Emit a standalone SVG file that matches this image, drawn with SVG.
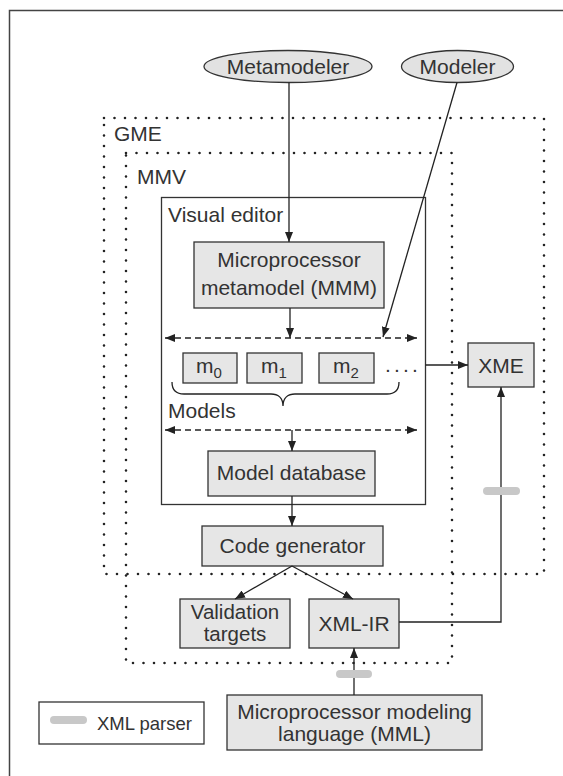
<svg xmlns="http://www.w3.org/2000/svg" width="563" height="776" viewBox="0 0 563 776">
<defs>
<marker id="ah" viewBox="0 0 10 8" refX="10" refY="4" markerWidth="10" markerHeight="8" markerUnits="userSpaceOnUse" orient="auto-start-reverse">
<path d="M0,0 L10,4 L0,8 Z" fill="#222"/>
</marker>
</defs>
<style>
text{font-family:"Liberation Sans",Arial,sans-serif;font-size:21px;fill:#333}
.c{text-anchor:middle}
.box{fill:#e6e6e6;stroke:#333;stroke-width:1.3}
.ell{fill:#e2e2e2;stroke:#333;stroke-width:1.3}
.frame{fill:none;stroke:#333;stroke-width:1.3}
.dot{fill:none;stroke:#222;stroke-width:2.6;stroke-linecap:round;stroke-dasharray:0 10.5}
.ln{fill:none;stroke:#222;stroke-width:1.3}
.dash{fill:none;stroke:#222;stroke-width:1.3;stroke-dasharray:6 4}
.pill{stroke:#c8c8c8;stroke-width:8;stroke-linecap:round}
.sub{font-size:15px}
.sm{font-size:18.5px}
.vt{font-size:20.5px}
</style>
<rect width="563" height="776" fill="#fff"/>
<path d="M9.5,776 V10.5 H563" fill="none" stroke="#444" stroke-width="1.5"/>

<g id="gme">
<rect class="dot" x="104" y="118" width="440" height="456"/>
<text x="114" y="141">GME</text>
</g>
<g id="mmv">
<rect class="dot" x="126" y="153" width="326" height="510"/>
<text x="137" y="184">MMV</text>
</g>
<g id="visual-editor">
<rect class="frame" x="161.5" y="197.5" width="264" height="307"/>
<text x="168" y="222">Visual editor</text>
</g>

<g id="metamodeler">
<ellipse class="ell" cx="288" cy="66.5" rx="84" ry="16"/>
<text class="c" x="288" y="74">Metamodeler</text>
</g>
<g id="modeler">
<ellipse class="ell" cx="457.5" cy="66.5" rx="56" ry="16"/>
<text class="c" x="457.5" y="74">Modeler</text>
</g>

<g id="mmm">
<rect class="box" x="194" y="242" width="190" height="66"/>
<text class="c" x="289" y="267">Microprocessor</text>
<text class="c" x="289" y="295">metamodel (MMM)</text>
</g>

<g id="m0">
<rect class="box" x="183" y="353" width="54" height="30"/>
<text x="196" y="373">m<tspan class="sub" dy="5">0</tspan></text>
</g>
<g id="m1">
<rect class="box" x="247" y="353" width="55" height="30"/>
<text x="261" y="373">m<tspan class="sub" dy="5">1</tspan></text>
</g>
<g id="m2">
<rect class="box" x="319" y="353" width="55" height="30"/>
<text x="333" y="373">m<tspan class="sub" dy="5">2</tspan></text>
</g>
<g id="ellipsis">
<text x="385" y="372" style="letter-spacing:3.2px">....</text>
</g>
<g id="models">
<path class="ln" d="M172,382 C172,390 176,394 184,394 H271 C278,394 283,398 283,406 C283,398 288,394 295,394 H387 C395,394 399,390 399,382"/>
<text x="168" y="418">Models</text>
</g>

<g id="model-database">
<rect class="box" x="208" y="451" width="167" height="45"/>
<text class="c" x="291.5" y="480">Model database</text>
</g>
<g id="code-generator">
<rect class="box" x="202" y="526" width="181" height="40"/>
<text class="c" x="292.5" y="553">Code generator</text>
</g>
<g id="validation-targets">
<rect class="box" x="180" y="599" width="110" height="49"/>
<text class="c vt" x="235" y="619">Validation</text>
<text class="c vt" x="235" y="641">targets</text>
</g>
<g id="xml-ir">
<rect class="box" x="309" y="599" width="90" height="49"/>
<text class="c" x="354" y="631">XML-IR</text>
</g>
<g id="xme">
<rect class="box" x="468" y="343" width="66" height="44"/>
<text class="c" x="501" y="373">XME</text>
</g>
<g id="mml">
<rect class="box" x="227" y="695" width="255" height="55"/>
<text class="c" x="354.5" y="719">Microprocessor modeling</text>
<text class="c" x="354.5" y="741">language (MML)</text>
</g>
<g id="legend">
<rect class="frame" x="39" y="702" width="165" height="42"/>
<line class="pill" x1="54" y1="720" x2="83" y2="720"/>
<text class="sm" x="97" y="730">XML parser</text>
</g>

<g id="connectors">
<line class="ln" x1="289" y1="82.5" x2="289" y2="242" marker-end="url(#ah)"/>
<line class="ln" x1="457" y1="82.5" x2="383" y2="337" marker-end="url(#ah)"/>
<line class="ln" x1="290" y1="308" x2="290" y2="338" marker-end="url(#ah)"/>
<line class="dash" x1="165" y1="338" x2="417" y2="338" marker-start="url(#ah)" marker-end="url(#ah)"/>
<line class="dash" x1="165" y1="430" x2="417" y2="430" marker-start="url(#ah)" marker-end="url(#ah)"/>
<line class="ln" x1="292" y1="430" x2="292" y2="451" marker-end="url(#ah)"/>
<line class="ln" x1="292" y1="496" x2="292" y2="526" marker-end="url(#ah)"/>
<line class="ln" x1="292" y1="566" x2="235" y2="599" marker-end="url(#ah)"/>
<line class="ln" x1="292" y1="566" x2="353" y2="599" marker-end="url(#ah)"/>
<line class="ln" x1="425.5" y1="365" x2="468" y2="365" marker-end="url(#ah)"/>
<path class="ln" d="M399,622 H501 V387" marker-end="url(#ah)"/>
<line class="ln" x1="354" y1="695" x2="354" y2="648" marker-end="url(#ah)"/>
<line class="pill" x1="487" y1="491" x2="516" y2="491"/>
<line class="pill" x1="340" y1="674" x2="368" y2="674"/>
</g>
</svg>
